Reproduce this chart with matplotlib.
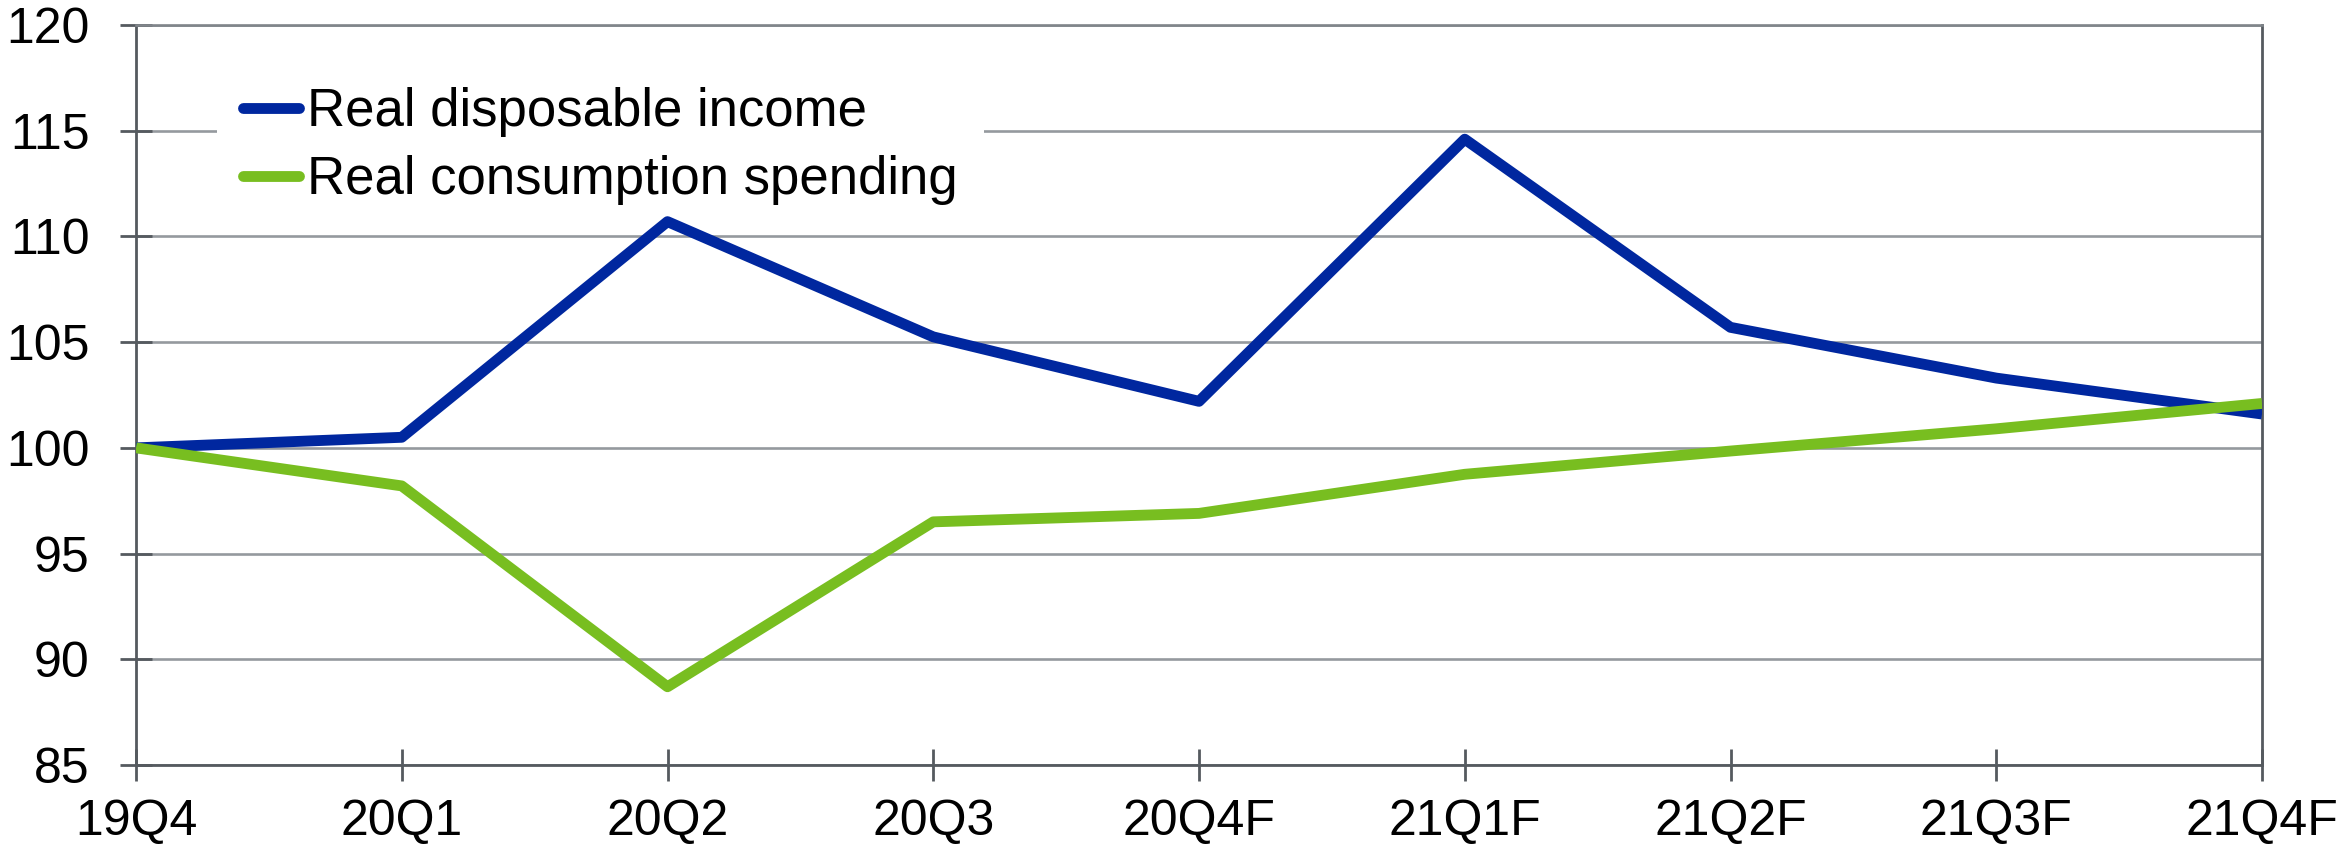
import matplotlib
matplotlib.use("Agg")
import matplotlib.pyplot as plt

categories = ["19Q4", "20Q1", "20Q2", "20Q3", "20Q4F", "21Q1F", "21Q2F", "21Q3F", "21Q4F"]
income = [100.0, 100.5, 110.7, 105.25, 102.2, 114.6, 105.7, 103.3, 101.6]
consumption = [100.0, 98.2, 88.7, 96.5, 96.9, 98.75, 99.85, 100.9, 102.1]
yticks = [85, 90, 95, 100, 105, 110, 115, 120]

plt.rcParams['font.family'] = ['Liberation Sans', 'DejaVu Sans']

fig = plt.figure(figsize=(23.38, 8.52), dpi=100)
ax = fig.add_axes([136/2338, 1-765/852, (2262-136)/2338, (765-25)/852])

x = list(range(len(categories)))
ax.plot(x, income, color='#00279f', lw=7.8, label='Real disposable income', solid_capstyle='butt', zorder=3)
ax.plot(x, consumption, color='#78be20', lw=7.8, label='Real consumption spending', solid_capstyle='butt', zorder=3)

ax.set_xlim(0, len(categories)-1)
ax.set_ylim(85, 120)
ax.set_yticks(yticks)
ax.set_xticks(x)
ax.set_xticklabels(categories)
ax.yaxis.grid(True, color='#95999e', lw=1.9)
ax.set_axisbelow(True)

spine_c = '#555a5f'
for s in ['left', 'bottom', 'right']:
    ax.spines[s].set_color(spine_c)
    ax.spines[s].set_linewidth(2)
ax.spines['top'].set_color('#80858a')
ax.spines['top'].set_linewidth(1.9)
ax.spines['top'].set_zorder(6)

ax.tick_params(axis='both', direction='inout', length=23, width=2, color=spine_c, labelsize=36)
ax.tick_params(axis='x', pad=13)
ax.tick_params(axis='y', pad=22)

leg = ax.legend(loc='upper left', bbox_to_anchor=(217/2338, 1-61/852), bbox_transform=fig.transFigure,
                frameon=True, fontsize=38,
                handlelength=1.05, handletextpad=0.15, labelspacing=0.34, borderpad=0.5,
                borderaxespad=0, fancybox=False)
leg.set_zorder(2.6)
leg.get_frame().set_facecolor('white')
leg.get_frame().set_edgecolor('none')
leg.get_frame().set_alpha(1)
for h in leg.get_lines():
    h.set_solid_capstyle('round')

fig.savefig('out.png', dpi=100)
